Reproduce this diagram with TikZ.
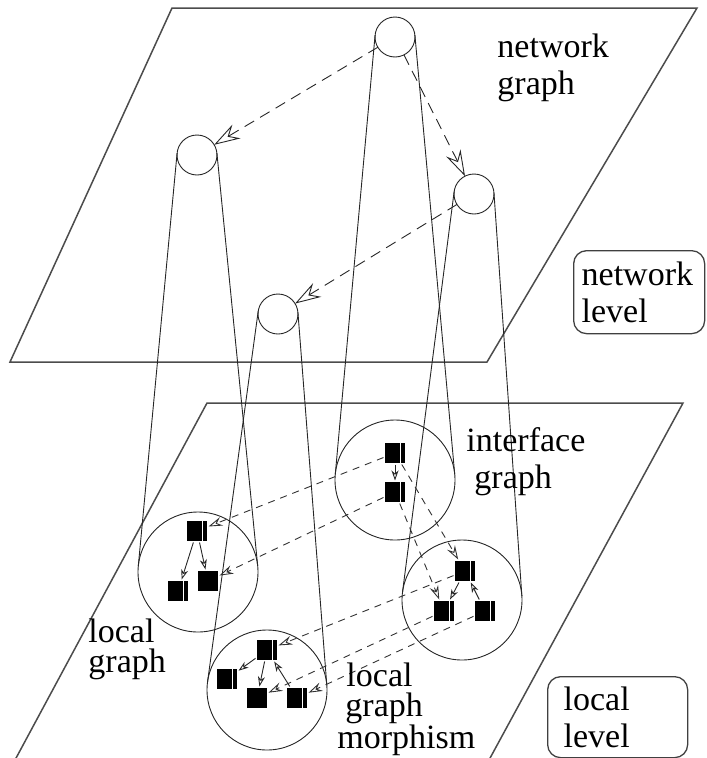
\documentclass[tikz,border=0pt]{standalone}
\usepackage{fontspec}
\setmainfont{Liberation Serif}
\usetikzlibrary{arrows.meta,calc}

% outer tangent lines joining a small circle node (#1, radius #2) to a large one (#3, radius #4)
\newcommand\conelines[4]{%
  \draw[coneline] let \p1=(#1.center), \p2=(#3.center),
      \n1={atan2(\y2-\y1,\x2-\x1)},
      \n2={veclen(\x2-\x1,\y2-\y1)},
      \n3={asin((#4-#2)/\n2)}
    in ($(\p1)+(\n1+90+\n3:#2pt)$) -- ($(\p2)+(\n1+90+\n3:#4pt)$)
       ($(\p1)+(\n1-90-\n3:#2pt)$) -- ($(\p2)+(\n1-90-\n3:#4pt)$);}

\begin{document}
\begin{tikzpicture}[x=1pt,y=-1pt, line width=0.9pt,
  font=\fontsize{34}{37}\selectfont,
  plane/.style={draw=black!70, line width=1.5pt},
  coneline/.style={draw=black!85, line width=0.9pt},
  netnode/.style={circle, draw=black!85, minimum size=40pt, inner sep=0pt, outer sep=0pt},
  localnode/.style={circle, draw=black!85, minimum size=120pt, inner sep=0pt, outer sep=0pt},
  vtx/.style={fill=black, minimum size=20pt, inner sep=0pt, outer sep=1.5pt},
  vtxs/.style={vtx, path picture={\fill[white] ([xshift=-5.5pt]path picture bounding box.north east) rectangle ([xshift=-4pt]path picture bounding box.south east);}},
  netarrow/.style={draw=black!85, dash pattern=on 11pt off 7pt, -{Stealth[open, length=26pt, width=16pt, inset=9pt]}},
  morph/.style={draw=black!80, dash pattern=on 7pt off 6pt, -{Stealth[open, length=14pt, width=9pt, inset=5pt]}},
  gedge/.style={draw=black!85, -{Stealth[open, length=10pt, width=7pt, inset=3pt]}},
  levelbox/.style={draw=black!75, rounded corners=13pt, line width=1.3pt, align=left, inner sep=0pt},
  lbl/.style={align=left, inner sep=0pt, anchor=base west}
]
\useasboundingbox (0,0) rectangle (707,758);

% the two levels
\draw[plane] (172,8) -- (697,8) -- (487,362) -- (10,362) -- cycle;
\begin{scope}
  \clip (0,0) rectangle (707,758);
  \draw[plane] (15,760) -- (207,403) -- (683,403) -- (489,760);
\end{scope}

% network graph nodes
\node[netnode] (n1) at (395,37) {};
\node[netnode] (n2) at (197,155) {};
\node[netnode] (n3) at (474,194) {};
\node[netnode] (n4) at (278,314) {};

% local graphs
\node[localnode] (L1) at (395,480) {};
\node[localnode] (L2) at (198,572) {};
\node[localnode] (L3) at (462,600) {};
\node[localnode] (L4) at (267,690) {};

% cones from network nodes down to their local graphs
\conelines{n1}{20}{L1}{60}
\conelines{n2}{20}{L2}{60}
\conelines{n3}{20}{L3}{60}
\conelines{n4}{20}{L4}{60}

% network graph edges
\draw[netarrow] (n1) -- (n2);
\draw[netarrow] (n1) -- (n3);
\draw[netarrow] (n3) -- (n4);

% interface graph
\node[vtxs] (p) at (395,453) {};
\node[vtxs] (q) at (395,492) {};
\draw[gedge] (p) -- (q);

% left local graph
\node[vtxs] (a) at (197,531) {};
\node[vtxs] (b) at (178,591) {};
\node[vtx]  (c) at (208,581) {};
\draw[gedge] (a) -- (b);
\draw[gedge] (a) -- (c);

% right local graph
\node[vtxs] (r) at (465,571) {};
\node[vtxs] (s) at (444,611) {};
\node[vtxs] (t) at (485,611) {};
\draw[gedge] (r) -- (s);
\draw[gedge] (t) -- (r);

% bottom local graph
\node[vtxs] (u) at (267,650) {};
\node[vtxs] (v) at (227,679) {};
\node[vtx]  (w) at (257,698) {};
\node[vtxs] (x) at (297,698) {};
\draw[gedge] (u) -- (v);
\draw[gedge] (u) -- (w);
\draw[gedge] (x) -- (u);

% local graph morphisms
\draw[morph] (p) -- (a);
\draw[morph] (q) -- (c);
\draw[morph] (p) -- (r);
\draw[morph] (q) -- (s);
\draw[morph] (r) -- (u);
\draw[morph] (s) -- (w);
\draw[morph] (t) -- (x);

% labels (anchored at the baseline of their last line)
\node[lbl] (tNG) at (497,94) {network\\graph};
\node[lbl] (tIG) at (466,488) {interface\\\hspace*{8pt}graph};
\node[lbl, font=\fontsize{34}{30}\selectfont] (tLG) at (88,672) {local\\graph};
\node[lbl, font=\fontsize{34}{30}\selectfont] (tLM) at (337,748) {\hspace*{9pt}local\\\hspace*{8pt}graph\\morphism};

\node[levelbox, minimum width=131pt, minimum height=83pt, text width=115pt, anchor=north west] (NL) at (573,250) {network\\level};
\node[levelbox, minimum width=140pt, minimum height=81pt, text width=108pt, anchor=north west] (LL) at (547,676) {local\\level};
\end{tikzpicture}
\end{document}
